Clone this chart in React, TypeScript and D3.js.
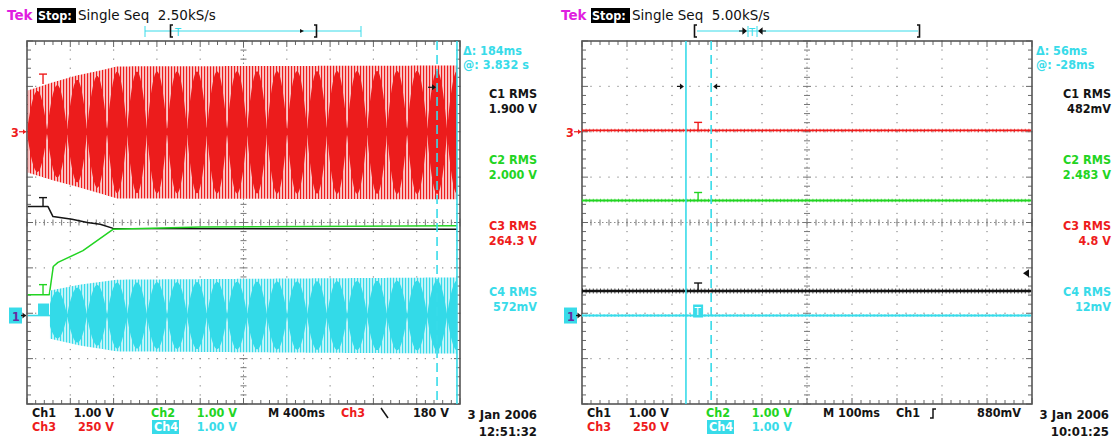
import React from "react";
import * as d3 from "d3";

const FONT = "'DejaVu Sans', sans-serif";
const FONTC = "'DejaVu Sans Condensed', 'DejaVu Sans', sans-serif";

const C1 = "#141414";
const C2 = "#22d422";
const C3 = "#ee1c1c";
const C4 = "#38dbe9";
const MAG = "#e01ee0";
const GRID = "#8c8c8c";

// ---------- LEFT SCREEN (M 400ms/div), values in divisions ----------
const L_red_t = [0.02, 0.6, 1.15, 1.69, 2.08, 9.93];
const L_red_top = [2.91, 3.09, 3.24, 3.35, 3.44, 3.46];
const L_red_bot = [1.1, 0.93, 0.79, 0.64, 0.53, 0.51];
const L_red_mid = 2.0;

const L_ch1_t = [0.02, 0.485, 0.6, 1.04, 1.39, 1.69, 1.99, 9.93];
const L_ch1_v = [0.35, 0.35, 0.13, 0.07, 0.0, -0.04, -0.13, -0.15];

const L_ch2_t = [0.02, 0.515, 0.607, 0.716, 1.293, 1.986, 4.0, 9.93];
const L_ch2_v = [-1.59, -1.59, -0.97, -0.88, -0.62, -0.15, -0.1, -0.07];

const L_ch4_flat_t = [0.02, 0.53];
const L_ch4_flat_v = [-2.05, -2.05];
const L_ch4_t = [0.53, 1.22, 2.08, 9.93];
const L_ch4_top = [-1.5, -1.37, -1.26, -1.21];
const L_ch4_bot = [-2.56, -2.71, -2.84, -2.89];
const L_ch4_mid = -2.05;

const beatPeriod = 0.462; // divisions between beat nodes
const beatPhase = 0.0;
const beatDepth = 0.92; // fraction of the envelope reached by the dark lobes

const L_cursors = [9.47, 9.93]; // [dashed, solid]
const L_trigPos = 0.37;

const L_title = ["Tek", "Stop:", "Single Seq  2.50kS/s"];
const L_meas = ["\u0394: 184ms", "@: 3.832 s"];
const RMS_labels = ["C1 RMS", "C2 RMS", "C3 RMS", "C4 RMS"];
const L_rms = ["1.900 V", "2.000 V", "264.3 V", "572mV"];
const L_bottom1 = ["Ch1", "1.00 V", "Ch2", "1.00 V", "M 400ms", "Ch3", "180 V"];
const L_bottom2 = ["Ch3", "250 V", "Ch4", "1.00 V"];
const L_date = ["3 Jan 2006", "12:51:32"];

// ---------- RIGHT SCREEN (M 100ms/div) ----------
const R_ch3_level = 2.03;
const R_ch2_level = 0.485;
const R_ch1_level = -1.51;
const R_ch4_level = -2.05;
const R_span = [0.0, 9.98];
const R_cursors = [2.87, 2.31]; // [dashed, solid]
const R_trigPos = 2.58;
const R_trigLevel = -1.12;

const R_title = ["Tek", "Stop:", "Single Seq  5.00kS/s"];
const R_meas = ["\u0394: 56ms", "@: -28ms"];
const R_rms = ["482mV", "2.483 V", "4.8 V", "12mV"];
const R_bottom1 = ["Ch1", "1.00 V", "Ch2", "1.00 V", "M 100ms", "Ch1", "880mV"];
const R_bottom2 = ["Ch3", "250 V", "Ch4", "1.00 V"];
const R_date = ["3 Jan 2006", "10:01:25"];

const GY0 = 41;
const GY1 = 404;

const yS = d3.scaleLinear().domain([-4, 4]).range([GY1, GY0]);
const xL = d3.scaleLinear().domain([0, 10]).range([27, 460]);
const xR = d3.scaleLinear().domain([0, 10]).range([582, 1032]);

function Graticule({ xs }: { xs: d3.ScaleLinear<number, number> }) {
  const els: React.ReactNode[] = [];
  const minorX = d3.range(0, 10.001, 0.2);
  const minorY = d3.range(-4, 4.001, 0.2);
  let k = 0;
  for (let i = 1; i < 10; i++) {
    if (i === 5) continue;
    for (const v of minorY)
      els.push(<rect key={k++} x={xs(i) - 0.6} y={yS(v) - 0.6} width={1.2} height={1.2} fill={GRID} />);
  }
  for (let j = -3; j <= 3; j++) {
    if (j === 0) continue;
    for (const u of minorX)
      els.push(<rect key={k++} x={xs(u) - 0.6} y={yS(j) - 0.6} width={1.2} height={1.2} fill={GRID} />);
  }
  els.push(<line key={k++} x1={xs(0)} x2={xs(10)} y1={yS(0)} y2={yS(0)} stroke={GRID} strokeWidth={1} strokeDasharray="1.5 2.5" />);
  els.push(<line key={k++} x1={xs(5)} x2={xs(5)} y1={yS(-4)} y2={yS(4)} stroke={GRID} strokeWidth={1} strokeDasharray="1.5 2.5" />);
  for (const u of minorX) {
    const major = Math.abs(u - Math.round(u)) < 0.01;
    const h = major ? 4 : 3;
    els.push(<line key={k++} x1={xs(u)} x2={xs(u)} y1={yS(0) - h} y2={yS(0) + h} stroke="#777" strokeWidth={1} />);
    els.push(<line key={k++} x1={xs(u)} x2={xs(u)} y1={GY0} y2={GY0 + (major ? 6 : 4)} stroke="#666" strokeWidth={1} />);
    els.push(<line key={k++} x1={xs(u)} x2={xs(u)} y1={GY1} y2={GY1 - (major ? 6 : 4)} stroke="#666" strokeWidth={1} />);
  }
  for (const v of minorY) {
    const major = Math.abs(v - Math.round(v)) < 0.01;
    const h = major ? 4 : 3;
    els.push(<line key={k++} x1={xs(5) - h} x2={xs(5) + h} y1={yS(v)} y2={yS(v)} stroke="#777" strokeWidth={1} />);
    els.push(<line key={k++} x1={xs(0)} x2={xs(0) + (major ? 6 : 4)} y1={yS(v)} y2={yS(v)} stroke="#666" strokeWidth={1} />);
    els.push(<line key={k++} x1={xs(10)} x2={xs(10) - (major ? 6 : 4)} y1={yS(v)} y2={yS(v)} stroke="#666" strokeWidth={1} />);
  }
  els.push(<rect key={k++} x={xs(0)} y={GY0} width={xs(10) - xs(0)} height={GY1 - GY0} fill="none" stroke="#555" strokeWidth={1.6} />);
  return <g>{els}</g>;
}

function sample(t0: number, t1: number, step: number) {
  const a = d3.range(t0, t1, step);
  a.push(t1);
  return a;
}

function BeatTrace({ xs, t, top, bot, mid, color, light, dark, id }: any) {
  const fTop = d3.scaleLinear().domain(t).range(top);
  const fBot = d3.scaleLinear().domain(t).range(bot);
  const pts = sample(t[0], t[t.length - 1], 0.01);
  const env = d3
    .area<number>()
    .x((d) => xs(d))
    .y0((d) => yS(fBot(d)))
    .y1((d) => yS(fTop(d)));
  const lobe = (d: number) =>
    beatDepth * Math.max(0.05, Math.pow(Math.abs(Math.sin((Math.PI * (d - beatPhase)) / beatPeriod)), 0.85));
  const lobes = d3
    .area<number>()
    .x((d) => xs(d))
    .y0((d) => yS(mid - (mid - fBot(d)) * lobe(d)))
    .y1((d) => yS(mid + (fTop(d) - mid) * lobe(d)));
  return (
    <g>
      <defs>
        <pattern id={id} width={3} height={8} patternUnits="userSpaceOnUse">
          <rect width={3} height={8} fill={light} />
          <rect width={1.1} height={8} fill={color} />
        </pattern>
      </defs>
      <path d={env(pts) || ""} fill={`url(#${id})`} />
      <path d={lobes(pts) || ""} fill={dark} />
    </g>
  );
}

function LineTrace({ xs, t, v, color, w = 1.5 }: any) {
  const line = d3
    .line<number>()
    .x((_, i) => xs(t[i]))
    .y((d) => yS(d));
  return <path d={line(v) || ""} fill="none" stroke={color} strokeWidth={w} strokeLinejoin="round" />;
}

function FlatNoisy({ xs, span, level, color, w = 2, fuzz = 4 }: any) {
  const pts = span.map((t: number) => [xs(t), yS(level)]);
  const d = d3.line()(pts as [number, number][]) || "";
  return (
    <g>
      <path d={d} fill="none" stroke={color} strokeWidth={w} />
      <path d={d} fill="none" stroke={color} strokeWidth={fuzz} strokeDasharray="1 2.6" opacity={0.75} />
    </g>
  );
}

function TMark({ x, y, color, h = 9 }: any) {
  return (
    <g stroke={color} strokeWidth={1.4} fill="none">
      <line x1={x - 4} x2={x + 4} y1={y - h} y2={y - h} />
      <line x1={x} x2={x} y1={y - h} y2={y} />
    </g>
  );
}

function Cursors({ xs, c }: any) {
  return (
    <g stroke={C4} strokeWidth={1.6}>
      <line x1={xs(c[0])} x2={xs(c[0])} y1={GY0} y2={GY1} strokeDasharray="9 5" />
      <line x1={xs(c[1])} x2={xs(c[1])} y1={GY0} y2={GY1} />
    </g>
  );
}

function Header({ x, title }: any) {
  return (
    <g fontFamily={FONT} fontSize={13.5}>
      <text x={x} y={20} fill={MAG} fontWeight="bold">
        {title[0]}
      </text>
      <rect x={x + 30} y={8} width={39} height={15} fill="#000" />
      <text x={x + 31} y={20} fill="#fff" fontWeight="bold" fontSize={12.5} fontFamily={FONTC}>
        {title[1]}
      </text>
      <text x={x + 71} y={20} fill="#111" xmlSpace="preserve">
        {title[2]}
      </text>
    </g>
  );
}

function SideText({ xr, meas, rms, xm }: any) {
  const cols = [C1, C2, C3, C4];
  const ys = [94, 160, 226, 292];
  return (
    <g fontFamily={FONTC} fontWeight="bold" fontSize={12.5}>
      <text x={xm} y={55} fill={C4}>
        {meas[0]}
      </text>
      <text x={xm} y={69} fill={C4}>
        {meas[1]}
      </text>
      {RMS_labels.map((l, i) => (
        <g key={i} fill={cols[i]} textAnchor="end">
          <text x={xr} y={ys[i] + 4}>
            {l}
          </text>
          <text x={xr} y={ys[i] + 19}>
            {rms[i]}
          </text>
        </g>
      ))}
    </g>
  );
}

function Bottom({ xs, b1, b2, date, trigColor, slope }: any) {
  const x0 = xs(0);
  const y1 = 417;
  const y2 = 431;
  return (
    <g fontFamily={FONTC} fontWeight="bold" fontSize={12.5}>
      <text x={x0 + 5} y={y1} fill={C1}>{b1[0]}</text>
      <text x={x0 + 87} y={y1} fill={C1} textAnchor="end">{b1[1]}</text>
      <text x={x0 + 124} y={y1} fill={C2}>{b1[2]}</text>
      <text x={x0 + 210} y={y1} fill={C2} textAnchor="end">{b1[3]}</text>
      <text x={x0 + 241} y={y1} fill={C1}>{b1[4]}</text>
      <text x={x0 + 314} y={y1} fill={trigColor}>{b1[5]}</text>
      <path d={slope} fill="none" stroke={C1} strokeWidth={1.5} />
      <text x={x0 + (xs(10) - x0) - 11} y={y1} fill={C1} textAnchor="end">{b1[6]}</text>
      <text x={x0 + 5} y={y2} fill={C3}>{b2[0]}</text>
      <text x={x0 + 87} y={y2} fill={C3} textAnchor="end">{b2[1]}</text>
      <rect x={x0 + 125} y={y2 - 11} width={27} height={14} fill={C4} />
      <text x={x0 + 127} y={y2} fill="#fff">{b2[2]}</text>
      <text x={x0 + 210} y={y2} fill={C4} textAnchor="end">{b2[3]}</text>
      <text x={xs(10) + 77} y={y1 + 2} fill={C1} textAnchor="end" fontSize={13}>{date[0]}</text>
      <text x={xs(10) + 77} y={y2 + 5} fill={C1} textAnchor="end" fontSize={13}>{date[1]}</text>
    </g>
  );
}

function ChMarkers({ xs, redLevel, cyanLevel }: any) {
  const x0 = xs(0);
  const yr = yS(redLevel);
  const yc = yS(cyanLevel);
  return (
    <g>
      <text x={x0 - 16} y={yr + 5} fill={C3} fontFamily={FONTC} fontWeight="bold" fontSize={12.5}>3</text>
      <line x1={x0 - 8} x2={x0 - 1} y1={yr} y2={yr} stroke={C3} strokeWidth={1.2} />
      <path d={`M${x0 - 1},${yr} l-3,-2.5 v5 z`} fill={C3} />
      <rect x={x0 - 18} y={yc - 8} width={13} height={16} fill={C4} />
      <text x={x0 - 15} y={yc + 5} fill="#6a2aa0" fontFamily={FONTC} fontWeight="bold" fontSize={12.5}>1</text>
      <line x1={x0 - 6} x2={x0 - 1} y1={yc} y2={yc} stroke={C1} strokeWidth={1.3} />
      <path d={`M${x0 - 1},${yc} l-3.5,-3 v6 z`} fill={C1} />
    </g>
  );
}

export default function App() {
  const trigL = xL(L_trigPos);
  const trigR = xR(R_trigPos);
  return (
    <svg width={1117} height={441} style={{ position: "absolute", left: 0, top: 0, background: "#fff" }}>
      <rect width={1117} height={441} fill="#fff" />
      {/* LEFT */}
      <Header x={7} title={L_title} />
      <g stroke={C4} strokeWidth={1}>
        <line x1={145} x2={361} y1={31} y2={31} />
        <line x1={145} x2={145} y1={26} y2={37} />
        <line x1={361} x2={361} y1={26} y2={37} />
      </g>
      <path d="M173,25 h-2.5 v12 h2.5" fill="none" stroke="#111" strokeWidth={1.6} />
      <text x={175} y={36} fill={C4} fontFamily={FONTC} fontSize={11}>T</text>
      <path d="M300,29 l4,2 l-4,2 z" fill="#111" />
      <path d="M314,25 h2.5 v12 h-2.5" fill="none" stroke="#111" strokeWidth={1.6} />
      <Graticule xs={xL} />
      <BeatTrace xs={xL} t={L_red_t} top={L_red_top} bot={L_red_bot} mid={L_red_mid} color={C3} light="#fbc6c6" dark="#ec1c1c" id="rs" />
      <LineTrace xs={xL} t={L_ch1_t} v={L_ch1_v} color={C1} w={1.5} />
      <LineTrace xs={xL} t={L_ch2_t} v={L_ch2_v} color={C2} w={1.5} />
      <LineTrace xs={xL} t={L_ch4_flat_t} v={L_ch4_flat_v} color={C4} w={1.6} />
      <BeatTrace xs={xL} t={L_ch4_t} top={L_ch4_top} bot={L_ch4_bot} mid={L_ch4_mid} color={C4} light="#c4f4f9" dark="#33dae8" id="cs" />
      <TMark x={trigL} y={yS(3.05)} color={C3} h={10} />
      <TMark x={trigL} y={yS(L_ch1_v[0])} color={C1} h={9} />
      <TMark x={trigL} y={yS(L_ch2_v[0])} color={C2} h={10} />
      <rect x={trigL - 5} y={yS(L_ch4_mid) - 12} width={11} height={12} fill={C4} />
      <Cursors xs={xL} c={L_cursors} />
      <path d={`M${xL(L_cursors[0]) - 9},${yS(2.98)} h5`} stroke="#111" strokeWidth={1.2} />
      <path d={`M${xL(L_cursors[0]) - 1},${yS(2.98)} l-4,-3 v6 z`} fill="#111" />
      <ChMarkers xs={xL} redLevel={L_red_mid} cyanLevel={L_ch4_mid} />
      <SideText xr={537} xm={463} meas={L_meas} rms={L_rms} />
      <Bottom xs={xL} b1={L_bottom1} b2={L_bottom2} date={L_date} trigColor={C3}
        slope={`M${xL(0) + 354},${408} l7,10`} />

      {/* RIGHT */}
      <Header x={561} title={R_title} />
      <line x1={697} x2={918} y1={31} y2={31} stroke={C4} strokeWidth={1} />
      <path d="M697,25 h-2.5 v12 h2.5" fill="none" stroke="#111" strokeWidth={1.6} />
      <path d="M917,25 h2.5 v12 h-2.5" fill="none" stroke="#111" strokeWidth={1.6} />
      <g stroke={C4} strokeWidth={1}>
        <line x1={748} x2={748} y1={26} y2={37} />
        <line x1={757} x2={757} y1={26} y2={37} />
      </g>
      <text x={749} y={36} fill={C4} fontFamily={FONTC} fontSize={11}>T</text>
      <path d="M739,31 h7 M746,31 l-3,-2.5 v5 z" stroke="#111" strokeWidth={1.2} fill="#111" />
      <path d="M766,31 h-7 M759,31 l3,-2.5 v5 z" stroke="#111" strokeWidth={1.2} fill="#111" />
      <Graticule xs={xR} />
      <FlatNoisy xs={xR} span={R_span} level={R_ch3_level} color={C3} w={1.8} fuzz={3.5} />
      <FlatNoisy xs={xR} span={R_span} level={R_ch2_level} color={C2} w={1.8} fuzz={3.5} />
      <FlatNoisy xs={xR} span={R_span} level={R_ch1_level} color={C1} w={2.6} fuzz={5} />
      <FlatNoisy xs={xR} span={R_span} level={R_ch4_level} color={C4} w={1.8} fuzz={3} />
      <Cursors xs={xR} c={R_cursors} />
      <TMark x={trigR} y={yS(R_ch3_level)} color={C3} h={8} />
      <TMark x={trigR} y={yS(R_ch2_level)} color={C2} h={8} />
      <TMark x={trigR} y={yS(R_ch1_level)} color={C1} h={8} />
      <rect x={trigR - 5} y={yS(R_ch4_level) - 11} width={10} height={13} fill={C4} />
      <text x={trigR - 3.5} y={yS(R_ch4_level) - 0.5} fill="#fff" fontFamily={FONTC} fontSize={11}>T</text>
      <path d={`M${xR(R_cursors[1]) - 9},${yS(3)} h5`} stroke="#111" strokeWidth={1.2} />
      <path d={`M${xR(R_cursors[1]) - 2},${yS(3)} l-4,-3 v6 z`} fill="#111" />
      <path d={`M${xR(R_cursors[0]) + 9},${yS(3)} h-5`} stroke="#111" strokeWidth={1.2} />
      <path d={`M${xR(R_cursors[0]) + 2},${yS(3)} l4,-3 v6 z`} fill="#111" />
      <path d={`M${xR(10) - 9},${yS(R_trigLevel)} l6,-4 v8 z`} fill="#111" />
      <ChMarkers xs={xR} redLevel={2.0} cyanLevel={R_ch4_level} />
      <SideText xr={1111} xm={1036} meas={R_meas} rms={R_rms} />
      <Bottom xs={xR} b1={R_bottom1} b2={R_bottom2} date={R_date} trigColor={C1}
        slope={`M${xR(0) + 348},${418} h3 v-9 h3`} />
    </svg>
  );
}
